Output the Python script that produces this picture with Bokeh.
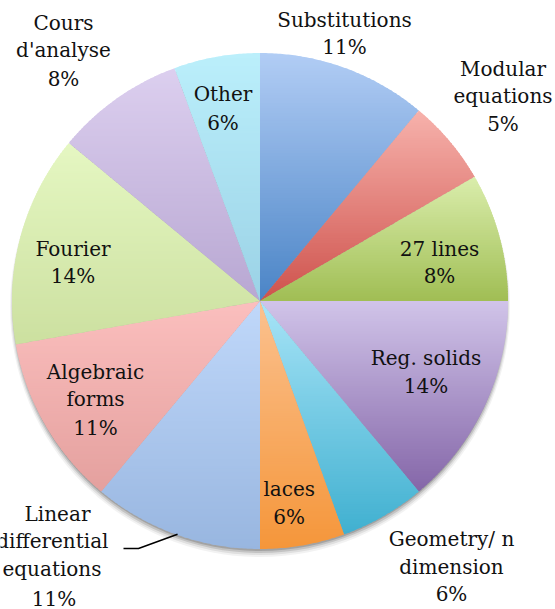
import numpy as np
from bokeh.plotting import figure
from bokeh.models import Range1d
from bokeh.core.properties import value
from bokeh.embed import file_html
from bokeh.resources import INLINE

# ---------------- data ----------------
names = ["Substitutions", "Modular equations", "27 lines", "Reg. solids",
         "Geometry/ n dimension", "laces", "Linear differential equations",
         "Algebraic forms", "Fourier", "Cours d'analyse", "Other"]
shares = [11.06, 5.59, 8.35, 13.94, 5.56, 5.50, 11.06, 11.14, 13.80, 8.40, 5.60]
pct_labels = ["11%", "5%", "8%", "14%", "6%", "6%", "11%", "11%", "14%", "8%", "6%"]
name_lines = [["Substitutions"], ["Modular", "equations"], ["27 lines"], ["Reg. solids"],
              ["Geometry/ n", "dimension"], ["laces"], ["Linear", "differential", "equations"],
              ["Algebraic", "forms"], ["Fourier"], ["Cours", "d'analyse"], ["Other"]]

# gradient colours (top -> bottom) per slice
top_colors = [(178, 205, 245), (247, 178, 172), (218, 237, 172), (209, 196, 233),
              (168, 228, 247), (251, 193, 143), (192, 216, 250), (251, 191, 190),
              (229, 247, 194), (220, 207, 239), (187, 239, 251)]
bot_colors = [(74, 132, 198), (206, 82, 76), (160, 190, 84), (132, 102, 168),
              (64, 176, 208), (245, 150, 58), (152, 182, 224), (228, 160, 158),
              (204, 224, 160), (184, 167, 210), (155, 210, 230)]

# ---------------- layout constants (reference pixel frame) ----------------
PAGE_W, PAGE_H = 555, 609
TEXT_SHIFT = 8.0  # empirical correction of the rendered text baseline


def Y(ry):
    return PAGE_H - ry


CX, CY, R = 259.5, Y(300.5), 248.0

# label anchors: (x centre, baselines of each line)
label_pos = [
    (344.0, [27.7, 54.3]),
    (502.5, [76.0, 103.3, 131.7]),
    (439.0, [256.7, 283.3]),
    (425.5, [365.7, 393.3]),
    (451.0, [546.7, 574.0, 601.7]),
    (288.7, [496.7, 524.0]),
    (57.0, [521.7, 548.3, 576.7, 606.0]),
    (95.0, [379.3, 406.0, 435.0]),
    (72.5, [256.7, 283.3]),
    (63.0, [30.0, 57.3, 86.0]),
    (222.5, [101.7, 130.0]),
]

p = figure(width=PAGE_W, height=PAGE_H, x_range=Range1d(0, PAGE_W), y_range=Range1d(0, PAGE_H),
           output_backend="svg", toolbar_location=None, min_border=0,
           x_axis_type=None, y_axis_type=None)
p.grid.visible = False
p.outline_line_color = None
p.background_fill_color = "white"
p.border_fill_color = "white"

# ---------------- shadow ----------------
for off, extra, alpha in [(6, 2, 0.05), (5, 1, 0.08), (4, 0, 0.12), (3, -1, 0.16)]:
    p.circle(x=[CX], y=[CY - off], radius=R + extra, fill_color="black",
             fill_alpha=alpha, line_color=None)


# ---------------- slices with vertical gradients ----------------
def clip(pts, yc, keep_above):
    out = []
    n = len(pts)
    for k in range(n):
        x1, y1 = pts[k]
        x2, y2 = pts[(k + 1) % n]
        in1 = y1 >= yc if keep_above else y1 <= yc
        in2 = y2 >= yc if keep_above else y2 <= yc
        if in1:
            out.append((x1, y1))
        if in1 != in2:
            t = (yc - y1) / (y2 - y1)
            out.append((x1 + t * (x2 - x1), yc))
    return out


cum = np.concatenate([[0.0], np.cumsum(shares)]) / float(sum(shares))
pxs, pys, pcols = [], [], []
for i in range(len(shares)):
    a0, a1 = cum[i] * 2 * np.pi, cum[i + 1] * 2 * np.pi
    n = max(8, int((a1 - a0) * R / 2))
    t = np.linspace(a0, a1, n)
    pts = [(CX, CY)] + list(zip(CX + R * np.sin(t), CY + R * np.cos(t)))
    ys_all = [q[1] for q in pts]
    ymax, ymin = max(ys_all), min(ys_all)
    nb = max(2, int((ymax - ymin) / 2.5))
    edges = np.linspace(ymax, ymin, nb + 1)
    c0 = np.array(top_colors[i], float)
    c1 = np.array(bot_colors[i], float)
    for k in range(nb):
        top = edges[k] + (1.0 if k == 0 else 0.0)
        bot = edges[k + 1] - (1.2 if k < nb - 1 else 1.0)
        band = clip(clip(pts, bot, True), top, False)
        if len(band) < 3:
            continue
        f = (ymax - 0.5 * (edges[k] + edges[k + 1])) / (ymax - ymin)
        c = c0 + f * (c1 - c0)
        pxs.append([q[0] for q in band])
        pys.append([q[1] for q in band])
        pcols.append("#%02x%02x%02x" % tuple(int(round(v)) for v in c))

p.patches(xs=pxs, ys=pys, fill_color=pcols, line_color=None)

# ---------------- labels ----------------
tx, ty, tt, ta = [], [], [], []
for i in range(len(names)):
    x0, bases = label_pos[i]
    lines = name_lines[i] + [pct_labels[i]]
    for j, s in enumerate(lines):
        xx, aa = x0, "center"
        if i == 6 and s == "differential":
            xx, aa = 108.0, "right"
        if i == 6 and s == "equations":
            xx, aa = 101.0, "right"
        if i == 6 and s.endswith("%"):
            xx = 53.5
        tx.append(xx)
        ty.append(Y(bases[j] - TEXT_SHIFT))
        tt.append(s)
        ta.append(aa)

p.text(x=tx, y=ty, text=tt, text_align=ta, text_baseline="alphabetic",
       text_font=value("DejaVu Serif"), text_font_size="20px", text_color="#111111")

# leader line for "Linear differential equations" -> slice edge at mid angle
mid = 0.5 * (cum[6] + cum[7]) * 2 * np.pi
ex, ey = CX + R * np.sin(mid), CY + R * np.cos(mid)
p.line(x=[123.0, 138.0, ex + 2], y=[Y(548.0), Y(548.0), ey], line_color="black", line_width=1.5)

open("out.html", "w").write(file_html(p, INLINE))
